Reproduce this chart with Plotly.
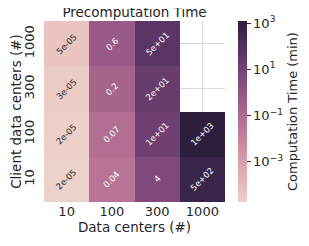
import numpy as np
import plotly.graph_objects as go

# ---- data ----
data_centers = ["10", "100", "300", "1000"]            # x categories
client_centers = ["10", "100", "300", "1000"]          # y categories (bottom -> top)
row_10 = [1.8e-05, 0.04, 4.0, 500.0]
row_100 = [2.0e-05, 0.07, 12.0, 1230.0]
row_300 = [3.0e-05, 0.2, 20.0, None]
row_1000 = [4.8e-05, 0.6, 50.0, None]
cbar_tickvals = [-3, -1, 1, 3]
cbar_ticktext = ["10<sup>−3</sup>", "10<sup>−1</sup>", "10<sup>1</sup>", "10<sup>3</sup>"]

rows = [row_10, row_100, row_300, row_1000]
z = [[float(np.log10(v)) if v is not None else None for v in r] for r in rows]
xi_idx = list(range(len(data_centers)))
yi_idx = list(range(len(client_centers)))

# seaborn default cubehelix palette (light -> dark)
def cubehelix(n=64, start=0.0, rot=0.4, gamma=1.0, hue=0.8, light=0.85, dark=0.15):
    def f(p0, p1, x):
        xg = x ** gamma
        a = hue * xg * (1 - xg) / 2
        phi = 2 * np.pi * (start / 3 + rot * x)
        return np.clip(xg + a * (p0 * np.cos(phi) + p1 * np.sin(phi)), 0, 1)
    xs = np.linspace(light, dark, n)
    r = f(-0.14861, 1.78277, xs)
    g = f(-0.29227, -0.90649, xs)
    b = f(1.97294, 0.0, xs)
    return [[i / (n - 1), "rgb(%d,%d,%d)" % (round(r[i] * 255), round(g[i] * 255), round(b[i] * 255))]
            for i in range(n)]

cs = cubehelix()
zmin, zmax = -4.74, 3.09
FS = 13
FT = 13.5
# page has an 8px body margin, so the figure is sized to fit the 309x246 window
W, H = 301, 238
ML, MR, MT, MB = 36, 84, 13, 44

fig = go.Figure(go.Heatmap(
    x=xi_idx, y=yi_idx, z=z,
    colorscale=cs, zmin=zmin, zmax=zmax,
    hoverongaps=False,
    colorbar=dict(
        thickness=9, len=1.0, lenmode="fraction", y=0.5, yanchor="middle",
        x=(230 - ML) / (W - ML - MR), xanchor="left", xpad=0, ypad=0, outlinewidth=0,
        tickvals=cbar_tickvals, ticktext=cbar_ticktext,
        ticks="outside", ticklen=4, tickcolor="#333333", tickwidth=1,
        tickfont=dict(family="DejaVu Sans", size=FS, color="#262626"),
        title=dict(text="Computation Time (min)", side="right",
                   font=dict(family="DejaVu Sans", size=FS, color="#262626")),
    ),
))

annotations = []
for yi, r in enumerate(rows):
    for xi, v in enumerate(r):
        if v is None:
            continue
        frac = (np.log10(v) - zmin) / (zmax - zmin)
        annotations.append(dict(
            x=xi_idx[xi], y=yi_idx[yi], text=format(v, ".1g"),
            showarrow=False, textangle=-45,
            font=dict(family="DejaVu Sans", size=8.5,
                      color="#262626" if frac < 0.25 else "white"),
        ))

fig.update_layout(
    width=W, height=H,
    margin=dict(l=ML, r=MR, t=MT, b=MB, autoexpand=False),
    paper_bgcolor="white", plot_bgcolor="white",
    title=dict(text="Precomputation Time", x=0.5, xanchor="center", xref="paper",
               y=1.0, yanchor="top", yref="container",
               font=dict(family="DejaVu Sans", size=FT, color="#262626")),
    annotations=annotations,
    font=dict(family="DejaVu Sans", color="#262626"),
)
fig.update_xaxes(
    range=[-0.5, len(data_centers) - 0.5], tickvals=xi_idx, ticktext=data_centers,
    showgrid=True, gridcolor="#d9d9d9", gridwidth=1, zeroline=False,
    showline=False, ticks="", automargin=False,
    tickfont=dict(size=FS, color="#262626"),
    title=dict(text="Data centers (#)", font=dict(size=FT, color="#262626"), standoff=2),
)
fig.update_yaxes(
    range=[-0.5, len(client_centers) - 0.5], tickvals=yi_idx, ticktext=client_centers,
    showgrid=True, gridcolor="#d9d9d9", gridwidth=1, zeroline=False,
    showline=False, ticks="", tickangle=-90, automargin=False, ticklabelstandoff=6,
    tickfont=dict(size=FS, color="#262626"),
    title=dict(text="Client data centers (#)", font=dict(size=FT, color="#262626"), standoff=0),
)

fig.write_html("out.html")
